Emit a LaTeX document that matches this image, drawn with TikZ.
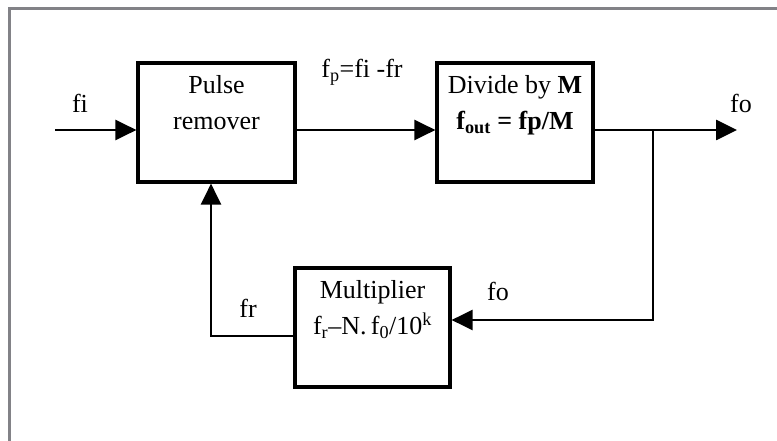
\documentclass[tikz,border=0pt]{standalone}
\usepackage{fontspec}
\setmainfont{Liberation Serif}
\usetikzlibrary{arrows.meta}
\begin{document}
\begin{tikzpicture}[x=1pt,y=-1pt,
  blockbox/.style={draw,line width=3.2pt,inner sep=0pt,align=center,
    font=\fontsize{26}{36}\selectfont},
  conn/.style={line width=2.7pt},
  arr/.style={conn,-{Triangle[length=21pt,width=20pt]}},
  lbl/.style={inner sep=0pt,font=\fontsize{26}{30}\selectfont}]
\useasboundingbox (0,0) rectangle (777,441);
\fill[white] (0,0) rectangle (777,441);
\draw[line width=3pt,color={rgb,255:red,130;green,130;blue,135}] (9,441) -- (9,9) -- (777,9);

\node[blockbox,minimum width=157pt,minimum height=119pt] (pr) at (216.5,122.5)
  {\strut Pulse\\\strut remover\\\strut};
\node[blockbox,minimum width=156pt,minimum height=119pt] (div) at (515,122.5)
  {\strut Divide by \textbf{M}\\\strut\textbf{f\textsubscript{out} = fp/M}\\\strut};
\node[blockbox,minimum width=155pt,minimum height=119pt] (mul) at (372.5,327.5)
  {\strut Multiplier\\\strut f\textsubscript{r}–N.\,f\textsubscript{0}/10\textsuperscript{k}\\\strut};

\coordinate (in) at (55,130);
\coordinate (out) at (737,130);
\coordinate (j) at (653,130);
\coordinate (fb1) at (653,320);
\coordinate (fb2) at (211,336);

\draw[arr] (in) -- (in -| pr.west);
\draw[arr] (pr.east |- in) -- (div.west |- in);
\draw[arr] (div.east |- in) -- (out);
\draw[arr] (j) -- (fb1) -- (fb1 -| mul.east);
\draw[arr] (fb2 -| mul.west) -- (fb2) -- (fb2 |- pr.south);

\node[lbl] (lfi) at (80,103) {fi};
\node[lbl] (lfp) at (362,72) {f\textsubscript{p}=fi -fr};
\node[lbl] (lfo1) at (741,103) {fo};
\node[lbl] (lfo2) at (498,291) {fo};
\node[lbl] (lfr) at (248,308) {fr};
\end{tikzpicture}
\end{document}
